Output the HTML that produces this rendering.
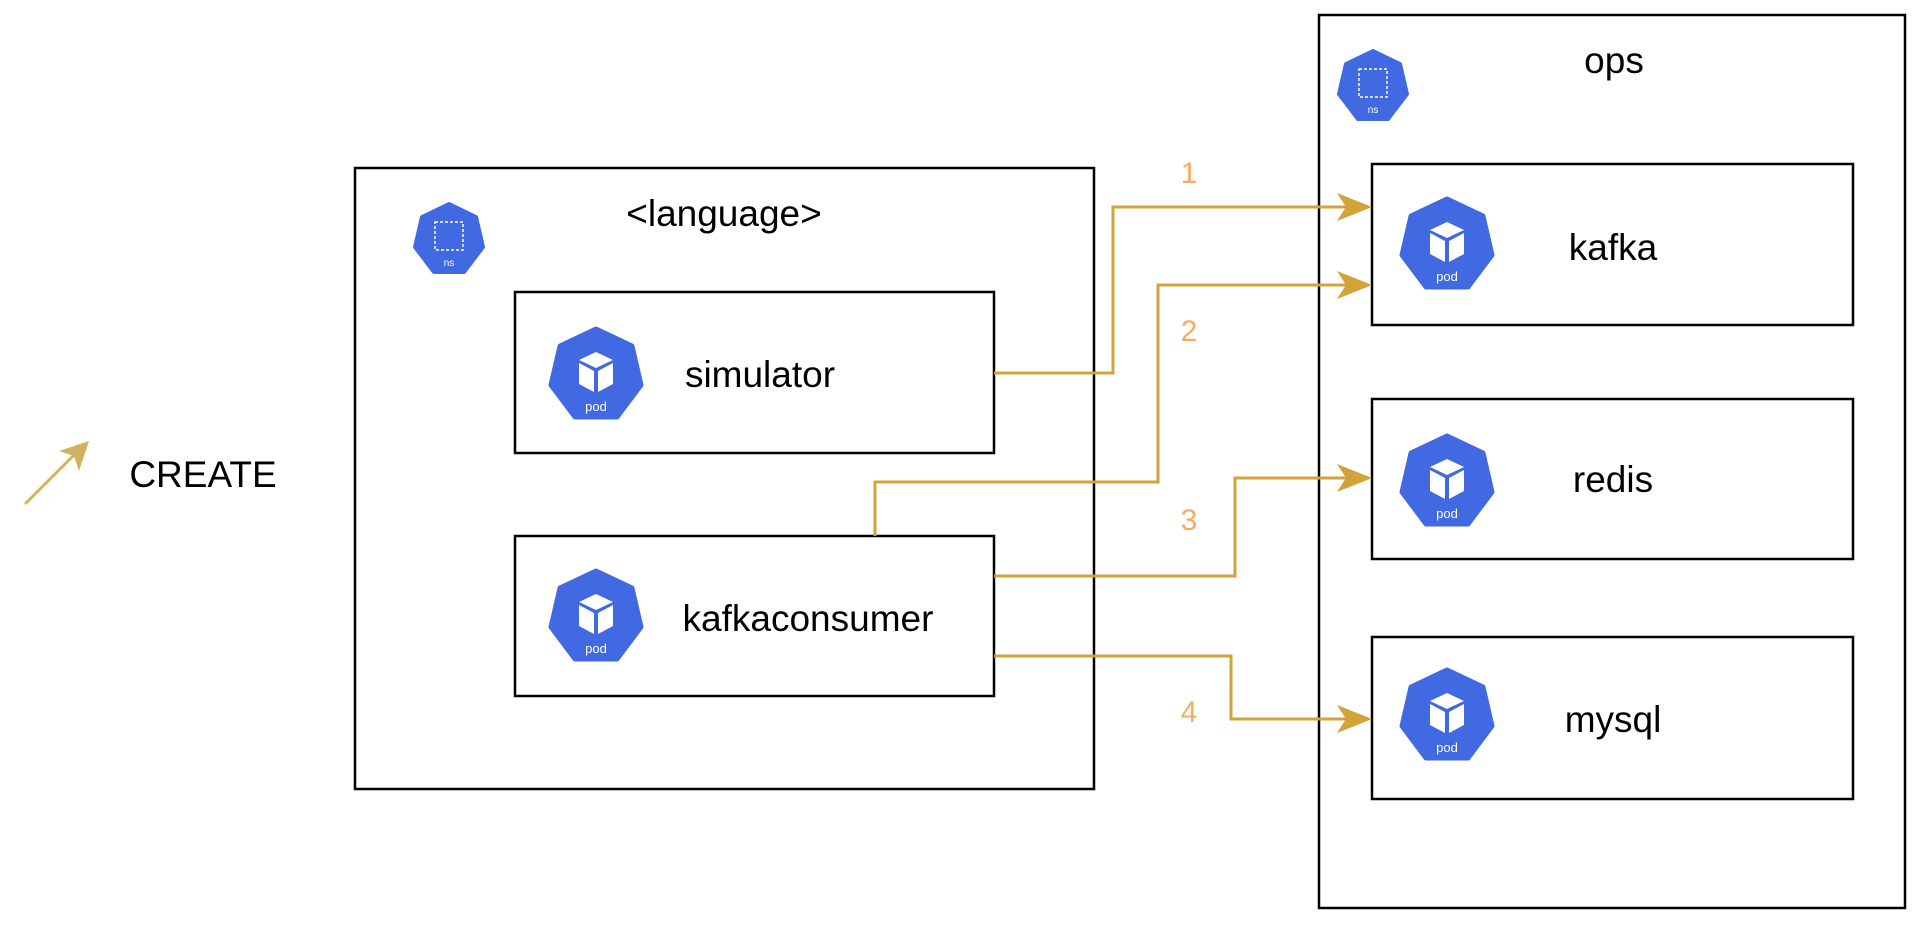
<!DOCTYPE html>
<html><head><meta charset="utf-8"><style>
html,body{margin:0;padding:0;background:#fff;}
svg{display:block;}
text{font-family:"Liberation Sans",Arial,sans-serif;}
</style></head><body>
<svg width="1918" height="936" viewBox="0 0 1918 936" xmlns="http://www.w3.org/2000/svg">
<defs>
<g id="pod">
<polygon points="0,-45 36,-28 45,11 21,43 -21,43 -45,11 -36,-28" fill="#4169E1" stroke="#4169E1" stroke-width="5" stroke-linejoin="round"/>
<polygon points="0,-22 17,-14 0,-6 -17,-14" fill="#fff"/>
<polygon points="-17,-11 -2,-3 -2,18 -17,10" fill="#fff"/>
<polygon points="17,-11 2,-3 2,18 17,10" fill="#fff"/>
<text x="0" y="37" font-size="13" fill="#fff" text-anchor="middle">pod</text>
</g>
<g id="ns">
<polygon points="0,-35 27,-22 34,8 15,33 -15,33 -34,8 -27,-22" fill="#4169E1" stroke="#4169E1" stroke-width="4" stroke-linejoin="round"/>
<rect x="-14" y="-17" width="28" height="28" fill="none" stroke="#fff" stroke-width="1.5" stroke-dasharray="3,2"/>
<text x="0" y="27" font-size="10" fill="#fff" text-anchor="middle">ns</text>
</g>
</defs>

<rect x="1319" y="15" width="586" height="893" fill="none" stroke="#000" stroke-width="2.5"/>
<rect x="355" y="168" width="739" height="621" fill="none" stroke="#000" stroke-width="2.5"/>
<rect x="515" y="292" width="479" height="161" fill="none" stroke="#000" stroke-width="2.5"/>
<rect x="515" y="536" width="479" height="160" fill="none" stroke="#000" stroke-width="2.5"/>
<rect x="1372" y="164" width="481" height="161" fill="none" stroke="#000" stroke-width="2.5"/>
<rect x="1372" y="399" width="481" height="160" fill="none" stroke="#000" stroke-width="2.5"/>
<rect x="1372" y="637" width="481" height="162" fill="none" stroke="#000" stroke-width="2.5"/>

<use href="#ns" x="449" y="239"/>
<use href="#ns" x="1373" y="86"/>
<use href="#pod" x="596" y="374"/>
<use href="#pod" x="596" y="616"/>
<use href="#pod" x="1447" y="244"/>
<use href="#pod" x="1447" y="481"/>
<use href="#pod" x="1447" y="715"/>

<g font-size="37" fill="#000" text-anchor="middle">
<text x="724" y="226">&lt;language&gt;</text>
<text x="1614" y="73">ops</text>
<text x="760" y="387">simulator</text>
<text x="808" y="631">kafkaconsumer</text>
<text x="1613" y="260">kafka</text>
<text x="1613" y="492">redis</text>
<text x="1613" y="732">mysql</text>
<text x="203" y="487">CREATE</text>
</g>

<g font-size="30" fill="#F5AB62" text-anchor="middle">
<text x="1189" y="183">1</text>
<text x="1189" y="341">2</text>
<text x="1189" y="530">3</text>
<text x="1189" y="722">4</text>
</g>

<g fill="none" stroke="#D3A238" stroke-width="3">
<polyline points="994,373 1113,373 1113,207 1352,207"/>
<polyline points="875,536 875,482 1158,482 1158,285 1352,285"/>
<polyline points="994,576 1235,576 1235,478 1352,478"/>
<polyline points="994,656 1231,656 1231,719 1352,719"/>
</g>
<g fill="#D3A238">
<polygon points="1372,207 1337,193 1346,207 1337,221"/>
<polygon points="1372,285 1337,271 1346,285 1337,299"/>
<polygon points="1372,478 1337,464 1346,478 1337,492"/>
<polygon points="1372,719 1337,705 1346,719 1337,733"/>
</g>

<line x1="25" y1="504" x2="78" y2="451" stroke="#D1B35E" stroke-width="3"/>
<polygon points="89,441 79,471 74,456 59,451" fill="#D1B35E"/>
</svg>
</body></html>
